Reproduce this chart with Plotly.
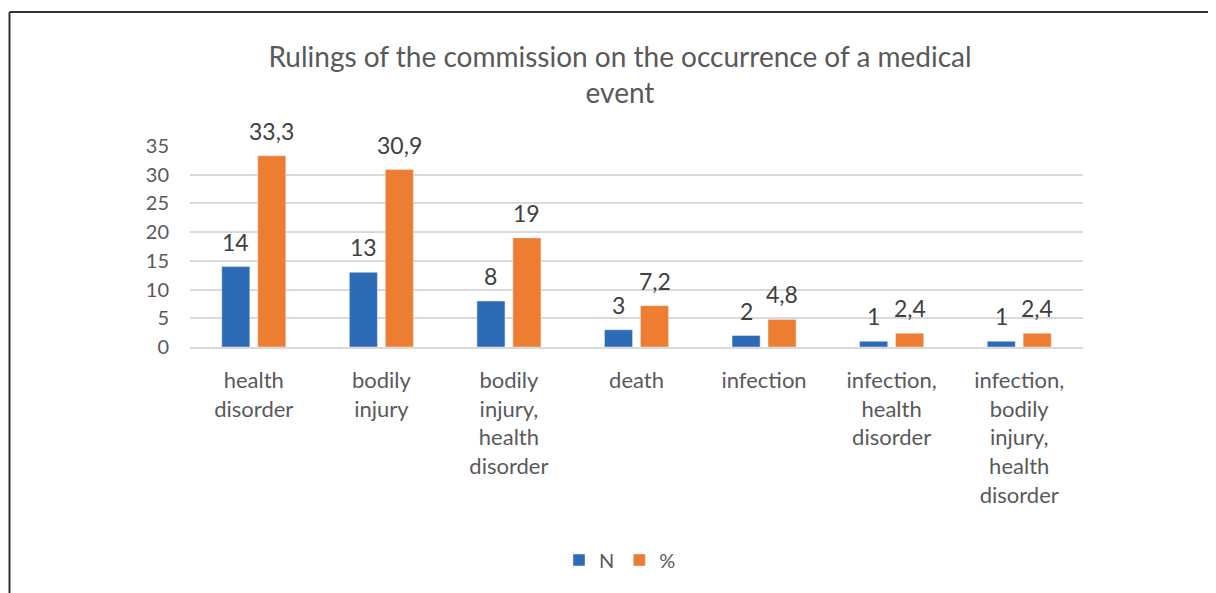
import plotly.graph_objects as go

categories = ["health<br>disorder", "bodily<br>injury", "bodily<br>injury,<br>health<br>disorder",
              "death", "infection", "infection,<br>health<br>disorder",
              "infection,<br>bodily<br>injury,<br>health<br>disorder"]
n_values = [14, 13, 8, 3, 2, 1, 1]
pct_values = [33.3, 30.9, 19, 7.2, 4.8, 2.4, 2.4]
y_ticks = [0, 5, 10, 15, 20, 25, 30, 35]

BLUE = "#2E6BB6"
ORANGE = "#ED7D31"
TXT = "#595959"
FONT = "Lato, Open Sans, sans-serif"

def fmt(v):
    return f"{v:g}".replace(".", ",")

fig = go.Figure()
fig.add_trace(go.Bar(name="N", x=categories, y=n_values, marker_color=BLUE))
fig.add_trace(go.Bar(name="%", x=categories, y=pct_values, marker_color=ORANGE))

ann = []
for c, v in zip(categories, n_values):
    ann.append(dict(x=c, y=v, text=fmt(v), xref="x", yref="y", showarrow=False,
                    xshift=-18, yshift=9, yanchor="bottom",
                    font=dict(size=23, color="#404040", family=FONT)))
for c, v in zip(categories, pct_values):
    ann.append(dict(x=c, y=v, text=fmt(v), xref="x", yref="y", showarrow=False,
                    xshift=18, yshift=9, yanchor="bottom",
                    font=dict(size=23, color="#404040", family=FONT)))

OFF = 8  # page body offset
W, H = 1208, 585
L, T = 190 - OFF, 146 - OFF
pw, ph = 893, 201
R = W - L - pw
B = H - T - ph

def px_x(p):
    return (p - OFF - L) / pw
def px_y(p):
    return (T + ph - (p - OFF)) / ph

shapes = [
    dict(type="line", xref="paper", yref="paper", x0=px_x(9.5), x1=px_x(1240),
         y0=px_y(12), y1=px_y(12), line=dict(color="#333333", width=2)),
    dict(type="line", xref="paper", yref="paper", x0=px_x(9.5), x1=px_x(9.5),
         y0=px_y(12), y1=px_y(640), line=dict(color="#333333", width=2)),
]

fig.update_layout(
    width=W, height=H,
    margin=dict(l=L, r=R, t=T, b=B),
    paper_bgcolor="white", plot_bgcolor="white",
    barmode="group", bargap=0.436, bargroupgap=0.22,
    title=dict(text="Rulings of the commission on the occurrence of a medical<br>event",
               xref="container", x=(620 - OFF) / W, xanchor="center",
               yref="container", y=1 - 59 / H, yanchor="middle",
               font=dict(size=28, color=TXT, family=FONT)),
    font=dict(family=FONT, color=TXT, size=18),
    legend=dict(orientation="h", x=px_x(620), xanchor="center", y=px_y(560), yanchor="middle",
                font=dict(size=20, color=TXT, family=FONT), traceorder="normal",
                itemwidth=30, tracegroupgap=0),
    annotations=ann,
    shapes=shapes,
    showlegend=True,
)
fig.update_yaxes(range=[0, 35], tickvals=y_ticks, showgrid=True, gridcolor="#D9D9D9",
                 gridwidth=1.5, zeroline=False, showline=False, ticks="",
                 ticklabelstandoff=20, tickfont=dict(size=20, color=TXT, family=FONT))
fig.update_xaxes(showline=True, linecolor="#D9D9D9", linewidth=1.5, ticks="",
                 ticklabelstandoff=13, tickfont=dict(size=22, color=TXT, family=FONT),
                 tickangle=0)

fig.write_html("out.html")
